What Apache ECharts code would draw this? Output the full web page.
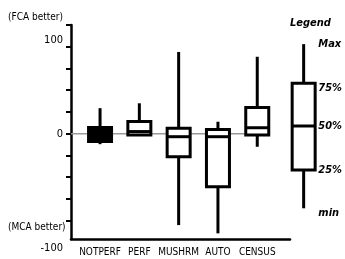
<!DOCTYPE html>
<html>
<head>
<meta charset="utf-8">
<script src="https://cdn.jsdelivr.net/npm/echarts@6/dist/echarts.min.js"></script>
<style>
  html, body { margin: 0; padding: 0; background: #fff; }
  #chart { width: 345px; height: 259px; }
</style>
</head>
<body>
<div id="chart"></div>
<script>
// box stats per category
const categories = ['NOTPERF', 'PERF', 'MUSHRM', 'AUTO', 'CENSUS']
const minVals    = [-12, -1.5, -105, -114.5, -15]
const q1Vals     = [-9, -1.5, -26.4, -61, -1.5]
const medianVals = [-1, 2.5, -3.4, -3.4, 6.9]
const q3Vals     = [7.2, 14, 6.2, 5, 30.3]
const maxVals    = [29.4, 35, 94, 13.8, 88.5]
const filledBox  = [true, false, false, false, false]

// the sample box in the legend
const legendStats  = [-85.7, -41.7, 8.9, 58, 103]
const legendLabels = ['min', '25%', '50%', '75%', 'Max']

// y axis
const yMin = -121
const yMax = 125
const tickValues = [-100, -75, -50, -25, 0, 25, 50, 75, 100, 125]
const labelValues = [100, 0, yMin]
const zeroLineEnd = 0.85 // zero line stops under CENSUS

const narrow = "'DejaVu Sans Condensed', 'Liberation Sans Narrow', sans-serif"
const legendFont = "'DejaVu Sans Condensed', 'DejaVu Sans', sans-serif"

// draw a box + whiskers (no end caps) with the axis scales
function renderBox(params, api) {
  const x = api.value(0)
  const pMin = api.coord([x, api.value(1)])
  const pQ1 = api.coord([x, api.value(2)])
  const pMed = api.coord([x, api.value(3)])
  const pQ3 = api.coord([x, api.value(4)])
  const pMax = api.coord([x, api.value(5)])
  const half = 11.5
  const filled = api.value(6) === 1
  const stroke = { stroke: '#000', lineWidth: 3 }
  return {
    type: 'group',
    children: [
      { type: 'line', shape: { x1: pMax[0], y1: pMax[1], x2: pQ3[0], y2: pQ3[1] }, style: stroke },
      { type: 'line', shape: { x1: pQ1[0], y1: pQ1[1], x2: pMin[0], y2: pMin[1] }, style: stroke },
      {
        type: 'rect',
        shape: { x: pQ3[0] - half, y: pQ3[1], width: half * 2, height: pQ1[1] - pQ3[1] },
        style: { fill: filled ? '#000' : '#fff', stroke: '#000', lineWidth: 3 }
      },
      { type: 'line', shape: { x1: pMed[0] - half, y1: pMed[1], x2: pMed[0] + half, y2: pMed[1] }, style: stroke }
    ]
  }
}

const boxData = categories.map((c, i) =>
  [i, minVals[i], q1Vals[i], medianVals[i], q3Vals[i], maxVals[i], filledBox[i] ? 1 : 0])
const legendData = [[0, ...legendStats, 0]]

const gridTop = 25
const gridHeight = 214

const chart = echarts.init(document.getElementById('chart'))

const option = {
  animation: false,
  backgroundColor: '#fff',
  grid: [
    // frame with the axes
    { left: 71, top: gridTop, width: 219, height: gridHeight },
    // the data boxes
    { left: 80.4, top: gridTop, width: 196.5, height: gridHeight },
    // the legend box
    { left: 293, top: gridTop, width: 24, height: gridHeight }
  ],
  xAxis: [
    {
      gridIndex: 0, type: 'value', min: 0, max: 1,
      axisLine: { show: true, onZero: false, lineStyle: { color: '#000', width: 2.5 } },
      axisTick: { show: false }, axisLabel: { show: false }, splitLine: { show: false }
    },
    {
      gridIndex: 1, type: 'category', data: categories,
      axisLine: { show: false }, axisTick: { show: false }, splitLine: { show: false },
      axisLabel: { interval: 0, hideOverlap: false, margin: 8, fontFamily: narrow, fontSize: 10, color: '#000' }
    },
    {
      gridIndex: 2, type: 'category', data: ['sample'], show: false
    }
  ],
  yAxis: [
    {
      gridIndex: 0, min: yMin, max: yMax,
      axisLine: { show: true, lineStyle: { color: '#000', width: 2.5 } },
      axisTick: { show: true, customValues: tickValues, length: 5, lineStyle: { color: '#000', width: 2 } },
      splitLine: { show: false },
      axisLabel: {
        customValues: labelValues, margin: 8, fontFamily: narrow, fontSize: 11, color: '#000',
        formatter: v => v === 100 ? '{up|100}' : (v === 0 ? '0' : '{dn|-100}'),
        rich: {
          up: { fontFamily: narrow, fontSize: 11, padding: [0, 0, 14, 0] },
          dn: { fontFamily: narrow, fontSize: 11, padding: [18, 0, 0, 0] }
        }
      }
    },
    { gridIndex: 1, min: yMin, max: yMax, show: false },
    {
      gridIndex: 2, min: yMin, max: yMax, position: 'right',
      axisLine: { show: false }, axisTick: { show: false }, splitLine: { show: false },
      axisLabel: {
        customValues: legendStats, margin: 4,
        fontFamily: legendFont, fontStyle: 'italic', fontWeight: 'bold', fontSize: 11, color: '#000',
        formatter: v => {
          const lab = legendLabels[legendStats.indexOf(v)]
          return (lab === '75%' || lab === 'min') ? '{dn|' + lab + '}' : lab
        },
        rich: {
          dn: { fontFamily: legendFont, fontStyle: 'italic', fontWeight: 'bold', fontSize: 11, padding: [9, 0, 0, 0] }
        }
      }
    }
  ],
  graphic: [
    { type: 'text', left: 8, top: 12, style: { text: '(FCA better)', font: "10px " + narrow, fill: '#000' } },
    { type: 'text', left: 8, top: 222, style: { text: '(MCA better)', font: "10px " + narrow, fill: '#000' } },
    { type: 'text', left: 290, top: 18, style: { text: 'Legend', font: "italic bold 11px " + legendFont, fill: '#000' } }
  ],
  series: [
    {
      type: 'line', xAxisIndex: 0, yAxisIndex: 0, z: 1,
      data: [[0, 0], [zeroLineEnd, 0]], symbol: 'none', silent: true,
      lineStyle: { color: '#999', width: 1.5 }
    },
    {
      type: 'custom', xAxisIndex: 1, yAxisIndex: 1, z: 3,
      renderItem: renderBox, data: boxData,
      encode: { x: 0, y: [1, 2, 3, 4, 5] }
    },
    {
      type: 'custom', xAxisIndex: 2, yAxisIndex: 2, z: 3,
      renderItem: renderBox, data: legendData,
      encode: { x: 0, y: [1, 2, 3, 4, 5] }
    }
  ]
}

chart.setOption(option)
window.addEventListener('resize', function () {
  chart.resize()
})
</script>
</body>
</html>
